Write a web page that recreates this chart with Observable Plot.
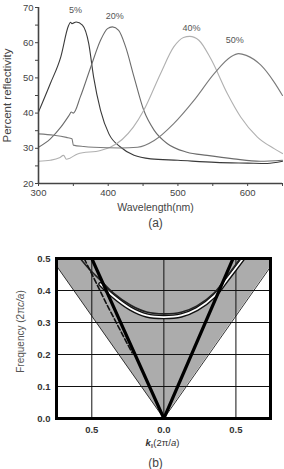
<!DOCTYPE html>
<html>
<head>
<meta charset="utf-8">
<script src="https://cdn.jsdelivr.net/npm/d3@7"></script>
<script src="https://cdn.jsdelivr.net/npm/@observablehq/plot@0.6"></script>
<style>
  body { margin: 0; background: #fff; }
  #wrap { position: relative; width: 284px; height: 469px; overflow: hidden; background: #fff; }
  #wrap svg { position: absolute; left: 0; }
</style>
</head>
<body>
<div id="wrap"></div>
<script>
// ---------- Panel (a): reflectivity spectra ----------
const wavelengthTicks = [300, 400, 500, 600];
const wavelengthMinor = [350, 450, 550, 650];
const reflTicks = [20, 30, 40, 50, 60, 70];
const reflMinor = [25, 35, 45, 55, 65];

const wl5 = [300, 317, 332, 343, 346, 348, 354, 363, 372, 379, 389, 401, 418, 437, 461, 500, 554, 600, 628, 650];
const r5  = [40.3, 48.4, 56.0, 64.8, 65.8, 65.4, 65.9, 65.0, 59.8, 50.3, 40.8, 34.1, 30.3, 28.0, 27.0, 26.6, 26.0, 25.8, 25.7, 26.3];

const wl20 = [300, 317, 332, 344, 347, 350, 360, 375, 389, 399, 406, 415, 425, 437, 451, 466, 485, 513, 542, 580, 618, 650];
const r20  = [30.3, 32.7, 36.0, 39.4, 40.3, 40.0, 44.6, 53.1, 60.7, 64.0, 64.5, 63.5, 58.8, 50.3, 40.8, 35.1, 31.3, 28.9, 28.0, 27.0, 26.3, 26.6];

const wl40 = [300, 317, 330, 336, 340, 345, 356, 389, 403, 420, 436, 451, 475, 494, 508, 517, 530, 547, 571, 590, 614, 638, 650];
const r40  = [26.3, 26.6, 27.3, 28.0, 26.9, 27.2, 28.4, 29.4, 30.3, 32.5, 36.0, 40.8, 51.2, 58.8, 61.5, 61.8, 60.7, 55.5, 45.5, 38.9, 33.2, 29.9, 28.5];

const wl50 = [300, 322, 340, 348, 350, 365, 379, 418, 442, 466, 494, 523, 552, 576, 587, 598, 619, 638, 650];
const r50  = [34.1, 33.7, 33.1, 32.7, 30.9, 30.5, 30.3, 30.1, 30.3, 32.2, 37.0, 43.6, 51.2, 56.0, 56.9, 56.4, 53.6, 48.8, 45.0];

const seriesNames = ["5%", "20%", "40%", "50%"];
const labelWl = [353, 409.5, 519.5, 581.5];
const labelR  = [69.2, 67.5, 64.2, 60.7];

// ---------- Panel (b): band diagram ----------
const kTicks = [-0.5, 0, 0.5];
const fTicks = [0, 0.1, 0.2, 0.3, 0.4, 0.5];
const fGrid = [0.1, 0.2, 0.3, 0.4];

const coneK = [-0.745, 0, 0.74];
const coneF = [0.477, 0, 0.474];

const lightLeftK = [-0.5, 0];
const lightLeftF = [0.5, 0];
const lightRightK = [0, 0.48];
const lightRightF = [0, 0.5];

const dashK = [-0.553, -0.40, -0.288, -0.22];
const dashF = [0.5, 0.36, 0.263, 0.205];

const upperK = [-0.58, -0.52, -0.44, -0.35, -0.23, -0.12, 0, 0.12, 0.23, 0.35, 0.44, 0.53];
const upperF = [0.5, 0.468, 0.432, 0.392, 0.354, 0.333, 0.327, 0.332, 0.352, 0.393, 0.445, 0.5];

const lowerK = [-0.44, -0.35, -0.23, -0.12, 0, 0.12, 0.23, 0.35, 0.44, 0.55];
const lowerF = [0.42, 0.382, 0.343, 0.322, 0.317, 0.322, 0.342, 0.383, 0.435, 0.5];

// ---------- styles ----------
const seriesColors = ["#3a3a3a", "#6c6c6c", "#b0b0b0", "#7a7a7a"];
const fontA = "'Liberation Sans', Arial, sans-serif";

const zipPts = (xs, ys) => xs.map((x, i) => ({x, y: ys[i]}));
const spectra = [zipPts(wl5, r5), zipPts(wl20, r20), zipPts(wl40, r40), zipPts(wl50, r50)];
const seriesLabels = seriesNames.map((name, i) => ({name, x: labelWl[i], y: labelR[i]}));

const panelA = Plot.plot({
  width: 284, height: 230,
  marginLeft: 38, marginRight: 2, marginTop: 7, marginBottom: 47,
  x: {domain: [300, 650]},
  y: {domain: [20, 70]},
  style: {fontFamily: fontA, fontSize: "9.5px", color: "#444", background: "transparent"},
  marks: [
    ...spectra.map((pts, i) => Plot.line(pts, {x: "x", y: "y", stroke: seriesColors[i], strokeWidth: 1.1, curve: "monotone-x"})),
    Plot.text(seriesLabels, {x: "x", y: "y", text: "name", fill: "#555", fontSize: 9}),
    Plot.ruleX([300], {stroke: "#444", strokeWidth: 1.6}),
    Plot.ruleY([20], {stroke: "#444", strokeWidth: 1.6}),
    Plot.axisX(wavelengthTicks, {tickSize: 3, tickPadding: 3, stroke: "#444", label: null}),
    Plot.axisX(wavelengthMinor, {tickSize: 3, tickFormat: () => "", stroke: "#444", label: null}),
    Plot.axisY(reflTicks, {tickSize: 3, tickPadding: 2, stroke: "#444", label: null}),
    Plot.axisY(reflMinor, {tickSize: 3, tickFormat: () => "", stroke: "#444", label: null}),
    Plot.text(["Percent reflectivity"], {frameAnchor: "left", dx: -31, rotate: -90, textAnchor: "middle", lineAnchor: "middle", fontSize: 11.5, fill: "#444"}),
    Plot.text(["Wavelength(nm)"], {frameAnchor: "bottom", dx: -5, dy: 24, textAnchor: "middle", lineAnchor: "middle", fontSize: 10.5, fill: "#444"}),
    Plot.text(["(a)"], {frameAnchor: "bottom", dx: -5, dy: 40, textAnchor: "middle", lineAnchor: "middle", fontSize: 12, fill: "#444"})
  ]
});
panelA.style.top = "0px";

const cone = zipPts(coneK, coneF);
const panelB = Plot.plot({
  width: 284, height: 239,
  marginLeft: 56, marginRight: 14, marginTop: 28, marginBottom: 51,
  x: {domain: [-0.745, 0.74]},
  y: {domain: [0, 0.5]},
  style: {fontFamily: fontA, fontSize: "9.5px", color: "#333", background: "transparent"},
  marks: [
    Plot.areaY(cone, {x: "x", y1: "y", y2: 0.5, fill: "#acacac"}),
    Plot.line(cone, {x: "x", y: "y", stroke: "#333", strokeWidth: 1}),
    Plot.ruleX(kTicks, {stroke: "#111", strokeWidth: 1}),
    Plot.ruleY(fGrid, {stroke: "#111", strokeWidth: 1}),
    Plot.line(zipPts(lowerK, lowerF), {x: "x", y: "y", stroke: "#111", strokeWidth: 4.5, curve: "catmull-rom", clip: true}),
    Plot.line(zipPts(lowerK, lowerF), {x: "x", y: "y", stroke: "#fff", strokeWidth: 1.8, curve: "catmull-rom", clip: true}),
    Plot.line(zipPts(upperK, upperF), {x: "x", y: "y", stroke: "#222", strokeWidth: 1.6, curve: "catmull-rom", clip: true}),
    Plot.line(zipPts(dashK, dashF), {x: "x", y: "y", stroke: "#111", strokeWidth: 1.6, strokeDasharray: "5,2.5", clip: true}),
    Plot.line(zipPts(lightLeftK, lightLeftF), {x: "x", y: "y", stroke: "#000", strokeWidth: 3.2, strokeLinecap: "round", clip: true}),
    Plot.line(zipPts(lightRightK, lightRightF), {x: "x", y: "y", stroke: "#000", strokeWidth: 3.2, strokeLinecap: "round", clip: true}),
    Plot.frame({stroke: "#000", strokeWidth: 3}),
    Plot.axisX(kTicks, {tickSize: 0, tickPadding: 8, tickFormat: d => Math.abs(d).toFixed(1), fontWeight: "bold", fill: "#333", label: null}),
    Plot.axisY(fTicks, {tickSize: 0, tickPadding: 6, tickFormat: d => d.toFixed(1), fontWeight: "bold", fill: "#333", label: null}),
    Plot.text(["Frequency (2πc/a)"], {frameAnchor: "left", dx: -36, dy: -7, rotate: -90, textAnchor: "middle", lineAnchor: "middle", fontSize: 10, fill: "#555"}),
    Plot.text(["k‖(2π/a)"], {frameAnchor: "bottom", dx: -1, dy: 24, textAnchor: "middle", lineAnchor: "middle", fontSize: 9.5, fill: "#333"}),
    Plot.text(["(b)"], {frameAnchor: "bottom", dx: -8, dy: 45, textAnchor: "middle", lineAnchor: "middle", fontSize: 12, fill: "#444"})
  ]
});
panelB.style.top = "230px";

// italic / subscript parts of the axis labels in panel (b)
const svgB = d3.select(panelB);
svgB.selectAll("text").filter(function () { return this.textContent === "Frequency (2πc/a)"; })
  .each(function () {
    const t = d3.select(this).text("");
    t.append("tspan").text("Frequency (2π");
    t.append("tspan").attr("font-style", "italic").text("c/a");
    t.append("tspan").text(")");
  });
svgB.selectAll("text").filter(function () { return this.textContent === "k‖(2π/a)"; })
  .each(function () {
    const t = d3.select(this).text("");
    t.append("tspan").attr("font-style", "italic").attr("font-weight", "bold").text("k");
    t.append("tspan").attr("font-size", 6).attr("dy", 2.5).text("‖");
    t.append("tspan").attr("dy", -2.5).text("(2π/");
    t.append("tspan").attr("font-style", "italic").text("a");
    t.append("tspan").text(")");
  });

document.getElementById("wrap").append(panelA, panelB);
</script>
</body>
</html>
